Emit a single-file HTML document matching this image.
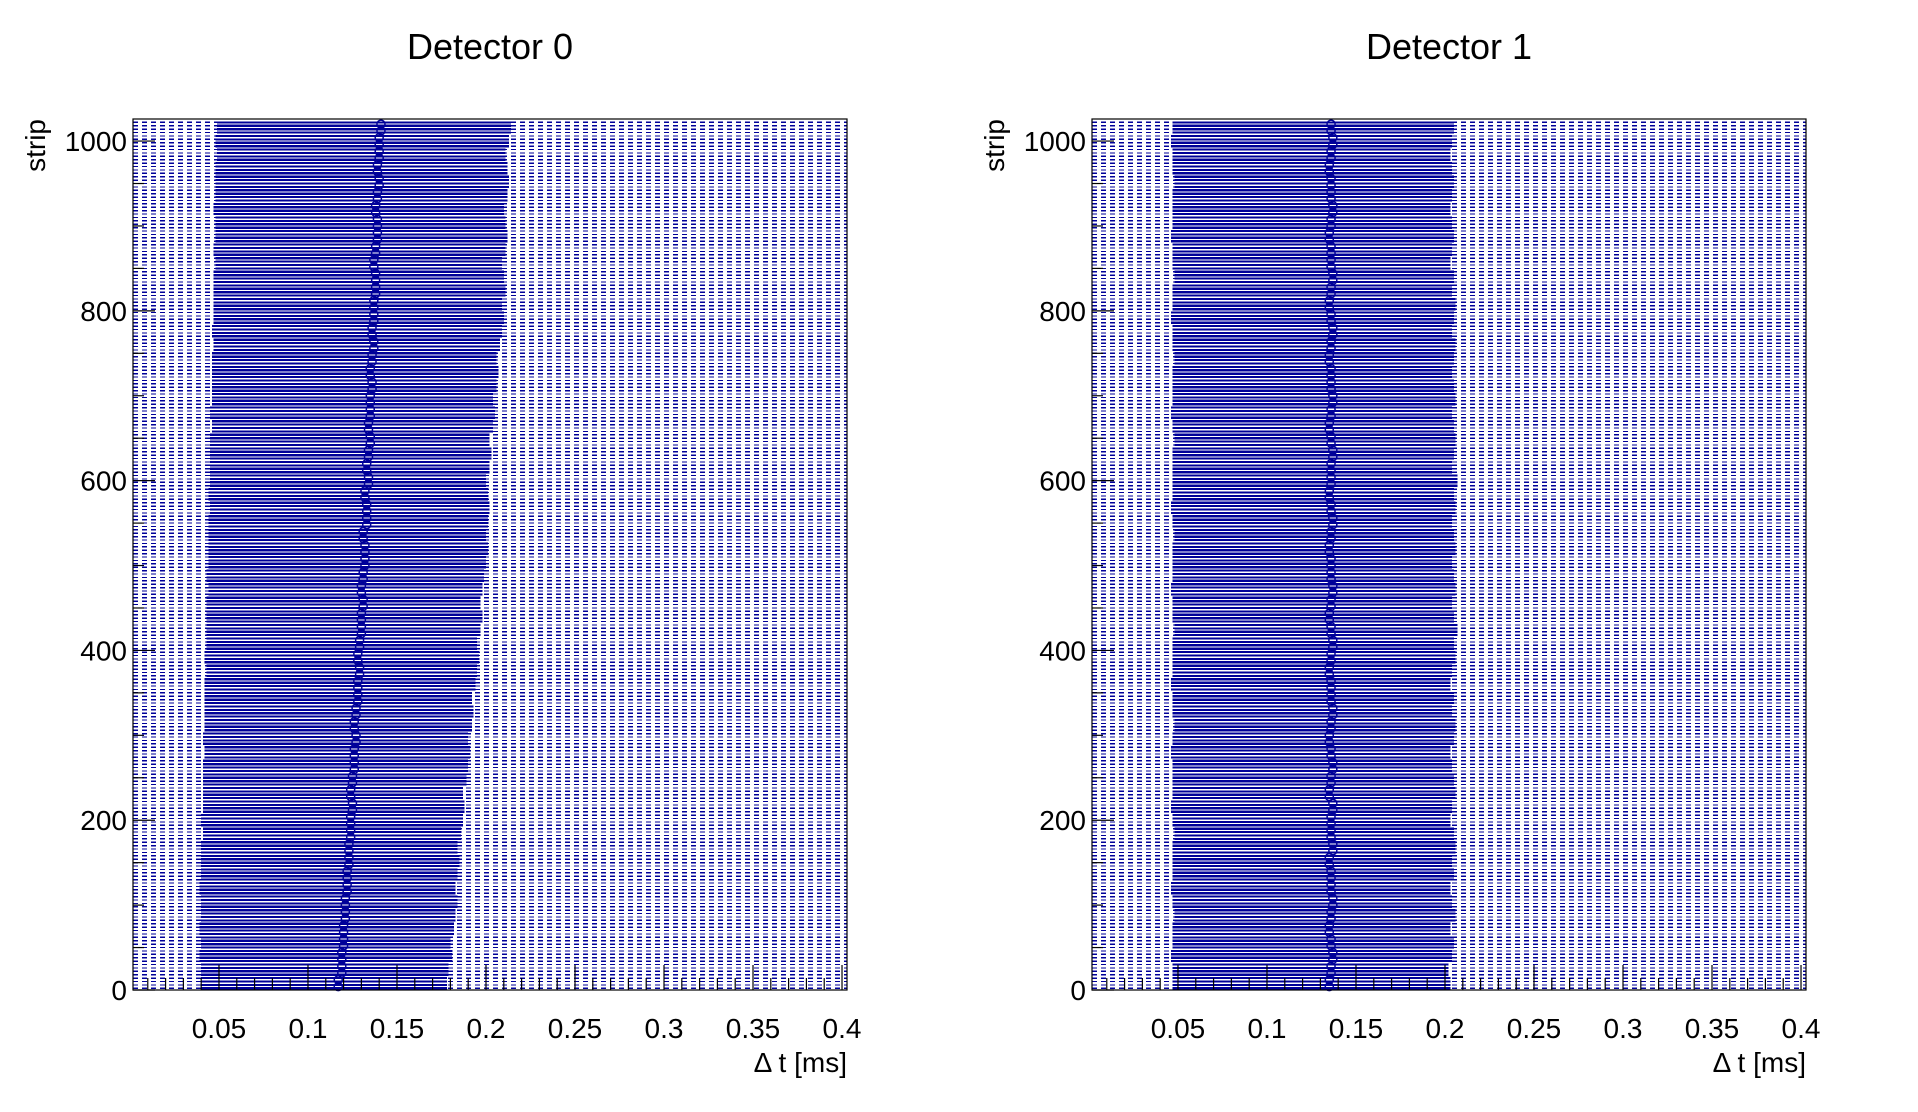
<!DOCTYPE html>
<html><head><meta charset="utf-8"><style>
html,body{margin:0;padding:0;background:#fff;}
svg{display:block;font-family:"Liberation Sans",sans-serif;}
</style></head><body>
<svg id="chart" width="1918" height="1112" viewBox="0 0 1918 1112"></svg>
<script>
const stripsPerEntry = 16;
const xTicks = [0.05,0.1,0.15,0.2,0.25,0.3,0.35,0.4];
const xTickLabels = ["0.05","0.1","0.15","0.2","0.25","0.3","0.35","0.4"];
const yTicks = [0,200,400,600,800,1000];
const yTickLabels = ["0","200","400","600","800","1000"];
const titles = ["Detector 0","Detector 1"];
const det0Center = [0.117,0.119,0.119,0.120,0.120,0.121,0.121,0.122,0.122,0.123,0.123,0.124,0.124,0.125,0.124,0.125,
0.126,0.126,0.127,0.126,0.127,0.128,0.128,0.129,0.128,0.129,0.130,0.130,0.131,0.130,0.131,0.132,
0.132,0.131,0.133,0.133,0.132,0.134,0.133,0.134,0.135,0.134,0.135,0.135,0.136,0.135,0.136,0.137,
0.136,0.137,0.137,0.138,0.138,0.137,0.138,0.139,0.139,0.138,0.139,0.140,0.139,0.140,0.140,0.141];
const det0Left = [0.040,0.040,0.039,0.040,0.039,0.040,0.040,0.039,0.040,0.040,0.040,0.041,0.040,0.041,0.041,0.041,
0.041,0.042,0.041,0.042,0.042,0.042,0.042,0.043,0.042,0.043,0.043,0.043,0.043,0.044,0.043,0.044,
0.044,0.044,0.044,0.045,0.044,0.045,0.045,0.045,0.045,0.046,0.045,0.046,0.046,0.046,0.046,0.047,
0.046,0.047,0.047,0.047,0.047,0.048,0.047,0.048,0.048,0.047,0.048,0.048,0.048,0.049,0.048,0.049];
const det0Right = [0.178,0.179,0.181,0.180,0.182,0.183,0.184,0.183,0.184,0.185,0.184,0.186,0.187,0.188,0.187,0.189,
0.190,0.191,0.190,0.192,0.193,0.192,0.194,0.195,0.196,0.195,0.197,0.198,0.197,0.198,0.199,0.200,
0.201,0.200,0.201,0.202,0.201,0.200,0.202,0.203,0.202,0.204,0.205,0.204,0.206,0.207,0.206,0.208,
0.209,0.210,0.209,0.211,0.210,0.209,0.211,0.212,0.211,0.210,0.212,0.213,0.212,0.211,0.213,0.214];
const det1Center = [0.135,0.136,0.137,0.136,0.135,0.136,0.137,0.136,0.136,0.135,0.137,0.136,0.136,0.137,0.135,0.136,
0.137,0.136,0.135,0.136,0.137,0.136,0.136,0.135,0.136,0.137,0.136,0.135,0.136,0.137,0.136,0.136,
0.135,0.136,0.137,0.136,0.135,0.136,0.136,0.137,0.136,0.135,0.136,0.137,0.136,0.136,0.135,0.136,
0.137,0.136,0.135,0.136,0.137,0.136,0.136,0.135,0.136,0.137,0.136,0.136,0.135,0.136,0.137,0.136];
const det1Left = [0.047,0.047,0.046,0.047,0.047,0.048,0.047,0.046,0.047,0.047,0.047,0.048,0.047,0.046,0.047,0.047,
0.047,0.046,0.047,0.048,0.047,0.047,0.046,0.047,0.047,0.047,0.048,0.047,0.047,0.046,0.047,0.047,
0.047,0.048,0.047,0.046,0.047,0.047,0.047,0.047,0.048,0.047,0.046,0.047,0.047,0.047,0.048,0.047,
0.047,0.046,0.047,0.047,0.048,0.047,0.047,0.046,0.047,0.047,0.047,0.048,0.047,0.047,0.046,0.047];
const det1Right = [0.203,0.202,0.204,0.205,0.203,0.206,0.204,0.203,0.205,0.204,0.206,0.205,0.203,0.204,0.206,0.205,
0.204,0.203,0.205,0.206,0.204,0.205,0.203,0.204,0.206,0.205,0.207,0.205,0.204,0.206,0.205,0.204,
0.206,0.205,0.204,0.206,0.205,0.207,0.204,0.205,0.206,0.205,0.204,0.206,0.205,0.204,0.205,0.206,
0.204,0.205,0.206,0.204,0.205,0.203,0.204,0.205,0.204,0.203,0.204,0.205,0.204,0.203,0.204,0.205];

const NS="http://www.w3.org/2000/svg";
const svg=document.getElementById('chart');
const XMIN=0.0017, XMAX=0.4028, YMIN=0, YMAX=1026;
const panels=[{x0:133,x1:847,c:det0Center,l:det0Left,r:det0Right},{x0:1092,x1:1806,c:det1Center,l:det1Left,r:det1Right}];
const Y0=990, Y1=119;
function mk(tag,attrs,parent){const e=document.createElementNS(NS,tag);for(const k in attrs)e.setAttribute(k,attrs[k]);(parent||svg).appendChild(e);return e;}

panels.forEach((p,pi)=>{
  const sx=v=>p.x0+(v-XMIN)/(XMAX-XMIN)*(p.x1-p.x0);
  const sy=s=>Y0-(s-YMIN)/(YMAX-YMIN)*(Y0-Y1);
  const g=mk('g',{});
  
  
  const rowsPerEntry=4;
  const dg=mk('g',{stroke:'#000099','stroke-width':'2.2',fill:'none','shape-rendering':'crispEdges'},g);
  
  
  for(let i=0;i<p.c.length;i++){
    for(let k=0;k<rowsPerEntry;k++){
      const s=i*stripsPerEntry+(k+0.5)*stripsPerEntry/rowsPerEntry;
      const y=sy(s);
      const dl=mk('line',{x1:p.x0,x2:p.x1,y1:y,y2:y,'stroke-dasharray':'5 4','stroke-width':'1.3'},dg);
      
      
      const sl=mk('line',{x1:sx(p.l[i]),x2:sx(p.r[i]),y1:y,y2:y},dg);
      
      
    }
  }
  const mg=mk('g',{stroke:'#000099','stroke-width':'1.5',fill:'none'},g);
  
  
  for(let i=0;i<p.c.length;i++){
    for(let k=0;k<2;k++){
      const s=i*stripsPerEntry+(k+0.5)*stripsPerEntry/2;
      const c=mk('circle',{cx:sx(p.c[i]),cy:sy(s),r:4},mg);
      
      
    }
  }
  const fr=mk('rect',{x:p.x0,y:Y1,width:p.x1-p.x0,height:Y0-Y1,fill:'none',stroke:'#000','stroke-width':'1.2'},g);
  
  
  for(let m=1;m<=40;m++){
    const v=m*0.01, x=sx(v), major=(m%5===0);
    const t=mk('line',{x1:x,x2:x,y1:Y0,y2:Y0-(major?25:12),stroke:'#000','stroke-width':'1.2'},g);
    
    
  }
  xTicks.forEach((v,i)=>{
    const t=mk('text',{x:sx(v),y:1038,'font-size':'28','text-anchor':'middle',fill:'#000'},g);
    t.textContent=xTickLabels[i];
    
    
  });
  for(let s=0;s<=1000;s+=50){
    const y=sy(s), major=(s%200===0);
    const t=mk('line',{x1:p.x0,x2:p.x0+(major?22:11),y1:y,y2:y,stroke:'#000','stroke-width':'1.2'},g);
    
    
  }
  yTicks.forEach((v,i)=>{
    const t=mk('text',{x:p.x0-6,y:sy(v)+10,'font-size':'28','text-anchor':'end',fill:'#000'},g);
    t.textContent=yTickLabels[i];
    
    
  });
  const xt=mk('text',{x:p.x1,y:1072,'font-size':'28','text-anchor':'end',fill:'#000'},g);
  xt.textContent='\u0394 t [ms]';
  
  
  const yt=mk('text',{x:0,y:0,'font-size':'28','text-anchor':'end',fill:'#000',transform:'translate('+(p.x0-88)+','+Y1+') rotate(-90)'},g);
  yt.textContent='strip';
  
  
  const tt=mk('text',{x:(p.x0+p.x1)/2,y:59,'font-size':'36','text-anchor':'middle',fill:'#000'},g);
  tt.textContent=titles[pi];
  
  
});
</script>
</body></html>
